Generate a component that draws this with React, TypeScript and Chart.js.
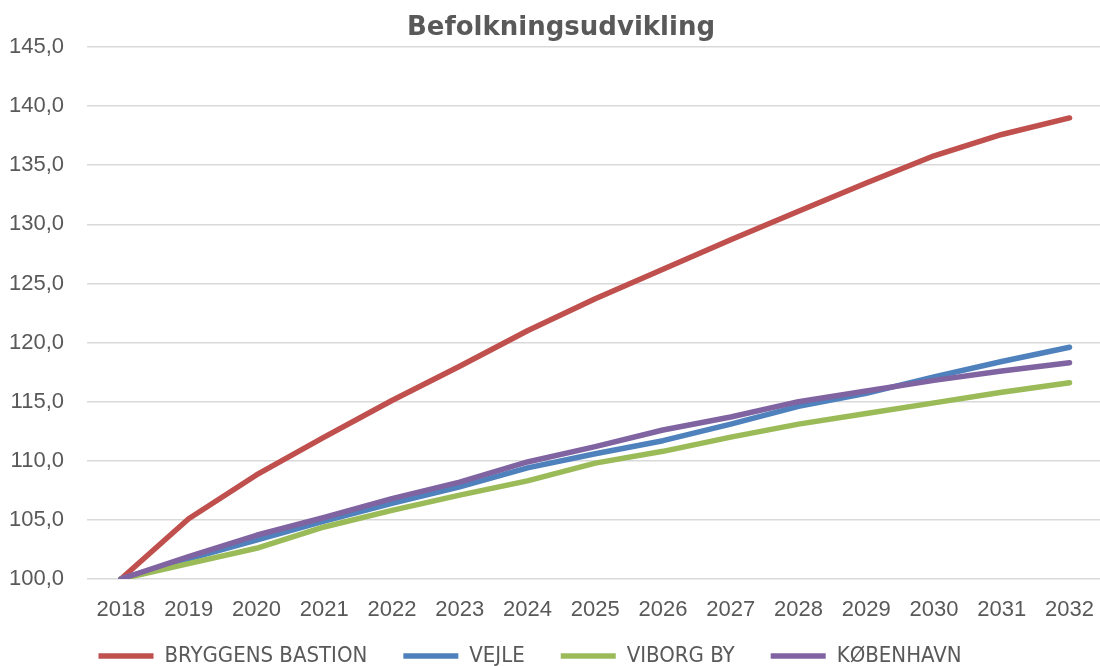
import React, { useEffect, useRef } from "react";
import { Chart, registerables } from "chart.js";

Chart.register(...registerables);

const chartTitle = "Befolkningsudvikling";
const years = ["2018", "2019", "2020", "2021", "2022", "2023", "2024", "2025", "2026", "2027", "2028", "2029", "2030", "2031", "2032"];
const seriesNames = ["BRYGGENS BASTION", "VEJLE", "VIBORG BY", "KØBENHAVN"];
const bryggensBastion = [100, 105.1, 108.8, 112.0, 115.1, 118.0, 121.0, 123.7, 126.2, 128.7, 131.1, 133.5, 135.8, 137.6, 139.0];
const vejle = [100, 101.7, 103.3, 104.9, 106.4, 107.8, 109.4, 110.6, 111.7, 113.1, 114.6, 115.7, 117.1, 118.4, 119.6];
const viborgBy = [100, 101.3, 102.6, 104.4, 105.8, 107.1, 108.3, 109.8, 110.8, 112.0, 113.1, 114.0, 114.9, 115.8, 116.6];
const koebenhavn = [100, 101.9, 103.7, 105.2, 106.8, 108.2, 109.9, 111.2, 112.6, 113.7, 115.0, 115.9, 116.8, 117.6, 118.3];
const yMin = 100;
const yMax = 145;
const yStep = 5;

const seriesColors = ["#c0504d", "#4f81bd", "#9bbb59", "#8064a2"];
const seriesValues = [bryggensBastion, vejle, viborgBy, koebenhavn];
const drawOrder = [4, 3, 2, 1];

const textColor = "#595959";
const legendFontSize = 22;
const legendPadding = 36;

// Move the legend row to its place below the axis labels, slightly left of centre
const legendPlace = {
  id: "legendPlace",
  afterLayout(chart: any) {
    const l = chart.legend;
    if (!l) return;
    l.left -= 31;
    l.right -= 31;
    const top = chart.height - 10 - legendPadding - legendFontSize / 2;
    l.top = top;
    l.bottom = chart.height;
    l.height = l.bottom - l.top;
  },
};

export default function App() {
  const canvasRef = useRef<HTMLCanvasElement | null>(null);

  useEffect(() => {
    if (!canvasRef.current) return;
    const chart = new Chart(canvasRef.current, {
      type: "line",
      data: {
        labels: years,
        datasets: seriesNames.map((name, i) => ({
          label: name,
          data: seriesValues[i],
          borderColor: seriesColors[i],
          backgroundColor: seriesColors[i],
          borderWidth: 5.5,
          borderCapStyle: "round" as const,
          borderJoinStyle: "round" as const,
          pointRadius: 0,
          pointHoverRadius: 0,
          tension: 0,
          order: drawOrder[i],
          pointStyle: "line" as const,
        })),
      },
      options: {
        animation: false,
        responsive: true,
        maintainAspectRatio: false,
        layout: { padding: { left: 10, right: 0, top: 0, bottom: 0 } },
        plugins: {
          title: {
            display: true,
            text: chartTitle,
            color: textColor,
            font: { family: "'DejaVu Sans', 'Liberation Sans', sans-serif", size: 26, weight: "bold", lineHeight: 1.2 },
            padding: { top: 12.4, bottom: 3.4 },
          },
          legend: {
            display: true,
            position: "bottom",
            maxHeight: 41,
            labels: {
              usePointStyle: true,
              pointStyle: "line",
              pointStyleWidth: 55,
              boxHeight: legendFontSize,
              padding: legendPadding,
              color: textColor,
              font: { family: "'Liberation Sans Narrow', 'DejaVu Sans Condensed', 'Liberation Sans', sans-serif", size: legendFontSize },
              sort: (a: any, b: any) => a.datasetIndex - b.datasetIndex,
            },
          },
          tooltip: { enabled: false },
        },
        scales: {
          x: {
            type: "category",
            offset: true,
            grid: { display: false, drawTicks: false },
            border: { display: false },
            ticks: {
              color: textColor,
              padding: 18,
              font: { family: "'Liberation Sans', Arial, sans-serif", size: 22 },
              maxRotation: 0,
              autoSkip: false,
            },
            afterFit: (scale: any) => {
              scale.height = 46;
            },
          },
          y: {
            min: yMin,
            max: yMax,
            grid: { color: "#d9d9d9", lineWidth: 1.6, drawTicks: false },
            border: { display: false },
            ticks: {
              stepSize: yStep,
              color: textColor,
              padding: 23,
              font: { family: "'Liberation Sans', Arial, sans-serif", size: 22 },
              callback: (v: any) => Number(v).toFixed(1).replace(".", ","),
            },
            afterFit: (scale: any) => {
              scale.width = 77;
            },
          },
        },
      },
      plugins: [legendPlace],
    });
    return () => chart.destroy();
  }, []);

  return (
    <div
      style={{
        position: "fixed",
        left: 0,
        top: 0,
        width: 1100,
        height: 666,
        overflow: "hidden",
        background: "#ffffff",
      }}
    >
      <div style={{ position: "relative", width: 1112, height: 666 }}>
        <canvas ref={canvasRef} />
      </div>
    </div>
  );
}
